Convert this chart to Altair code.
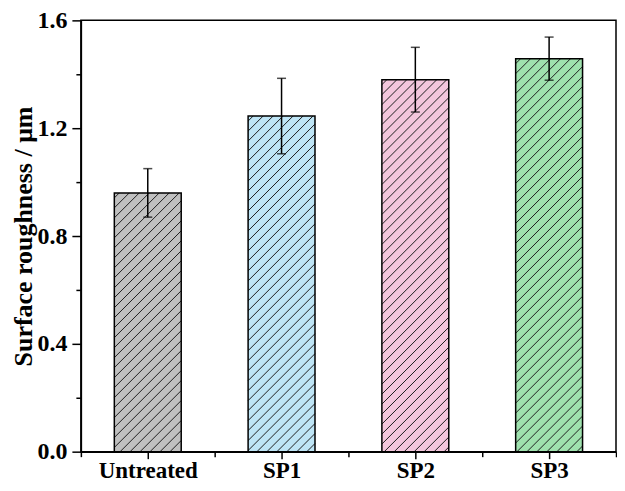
import altair as alt
import pandas as pd

categories = ["Untreated", "SP1", "SP2", "SP3"]
means = [0.96, 1.245, 1.38, 1.458]
errors = [0.09, 0.14, 0.12, 0.08]
colors = ["#c0c0c0", "#bee5f6", "#f3c6dc", "#9fe1ae"]

W, H = 536, 432
YMAX = 1.6
sx = W / 4.0
sy = H / YMAX
half = 0.25
spacing = 10.0

bars = pd.DataFrame({
    "cat": categories,
    "idx": list(range(len(categories))),
    "mean": means,
    "err": errors,
})
bars["x0"] = bars["idx"] - half
bars["x1"] = bars["idx"] + half
bars["lo"] = bars["mean"] - bars["err"]
bars["hi"] = bars["mean"] + bars["err"]
bars["zero"] = 0.0

# hatch segments (45 deg in pixel space), clipped to each bar
rows = []
for _, r in bars.iterrows():
    bw = 2 * half * sx
    bh = r["mean"] * sy
    c = -bh + spacing / 2
    while c < bw:
        xa = max(0.0, c)
        xb = min(bw, bh + c)
        if xb > xa:
            rows.append({
                "cat": r["cat"],
                "hx": r["x0"] + xa / sx, "hy": (xa - c) / sy,
                "hx2": r["x0"] + xb / sx, "hy2": (xb - c) / sy,
            })
        c += spacing
hatch = pd.DataFrame(rows)

font = "Liberation Serif"
xscale = alt.Scale(domain=[-0.5, 3.5], nice=False, zero=False)
yscale = alt.Scale(domain=[0, YMAX], nice=False)

label_expr = "datum.value == 0 ? 'Untreated' : datum.value == 1 ? 'SP1' : datum.value == 2 ? 'SP2' : 'SP3'"

xaxis = alt.Axis(values=[0, 1, 2, 3], labelExpr=label_expr, title=None,
                 tickSize=7, tickWidth=1.5, tickColor="black",
                 domainColor="black", domainWidth=1.5, grid=False,
                 labelFont=font, labelFontWeight="bold", labelFontSize=23,
                 labelColor="black", labelPadding=1, orient="bottom")
yaxis = alt.Axis(values=[0, 0.4, 0.8, 1.2, 1.6], format=".1f",
                 title="Surface roughness / μm", titleFont=font,
                 titleFontWeight="bold", titleFontSize=26, titleColor="black",
                 titlePadding=0,
                 tickSize=9, tickWidth=1.5, tickColor="black",
                 domainColor="black", domainWidth=1.5, grid=False,
                 labelFont=font, labelFontWeight="bold", labelFontSize=24,
                 labelColor="black", labelPadding=5, orient="left")

base = alt.Chart(bars)

fill = base.mark_rect().encode(
    x=alt.X("x0:Q", scale=xscale, axis=xaxis),
    x2="x1:Q",
    y=alt.Y("zero:Q", scale=yscale, axis=yaxis),
    y2="mean:Q",
    fill=alt.Fill("cat:N", scale=alt.Scale(domain=categories, range=colors), legend=None),
)

hatch_layer = alt.Chart(hatch).mark_rule(color="#1e1e1e", strokeWidth=1).encode(
    x=alt.X("hx:Q", scale=xscale, axis=None),
    y=alt.Y("hy:Q", scale=yscale, axis=None),
    x2="hx2:Q",
    y2="hy2:Q",
)

outline = base.mark_rect(fill=None, stroke="black", strokeWidth=1.5).encode(
    x=alt.X("x0:Q", scale=xscale, axis=None),
    x2="x1:Q",
    y=alt.Y("zero:Q", scale=yscale, axis=None),
    y2="mean:Q",
)

err_rule = base.mark_rule(color="black", strokeWidth=1.5).encode(
    x=alt.X("idx:Q", scale=xscale, axis=None),
    y=alt.Y("lo:Q", scale=yscale, axis=None),
    y2="hi:Q",
)
cap_hi = base.mark_tick(orient="horizontal", color="black", size=9, thickness=1.5).encode(
    x=alt.X("idx:Q", scale=xscale, axis=None),
    y=alt.Y("hi:Q", scale=yscale, axis=None),
)
cap_lo = base.mark_tick(orient="horizontal", color="black", size=9, thickness=1.5).encode(
    x=alt.X("idx:Q", scale=xscale, axis=None),
    y=alt.Y("lo:Q", scale=yscale, axis=None),
)

# minor ticks
minor = base.mark_point(opacity=0).encode(
    x=alt.X("idx:Q", scale=xscale,
            axis=alt.Axis(values=[-0.5, 0.5, 1.5, 2.5, 3.5], labels=False, title=None,
                          tickSize=5, tickWidth=1.5, tickColor="black", domain=False,
                          grid=False, orient="bottom")),
    y=alt.Y("mean:Q", scale=yscale,
            axis=alt.Axis(values=[0.2, 0.6, 1.0, 1.4], labels=False, title=None,
                          tickSize=5, tickWidth=1.5, tickColor="black", domain=False,
                          grid=False, orient="left")),
)

chart = alt.layer(fill, hatch_layer, outline, err_rule, cap_hi, cap_lo, minor).resolve_axis(
    x="independent", y="independent"
).properties(
    width=W, height=H, background="white",
    autosize=alt.AutoSizeParams(type="none"),
    padding={"left": 73, "top": 12, "right": 1, "bottom": 31},
).configure_view(
    stroke="black", strokeWidth=1.5
)

chart.save("out.html", embed_options={"renderer": "svg", "actions": False})
